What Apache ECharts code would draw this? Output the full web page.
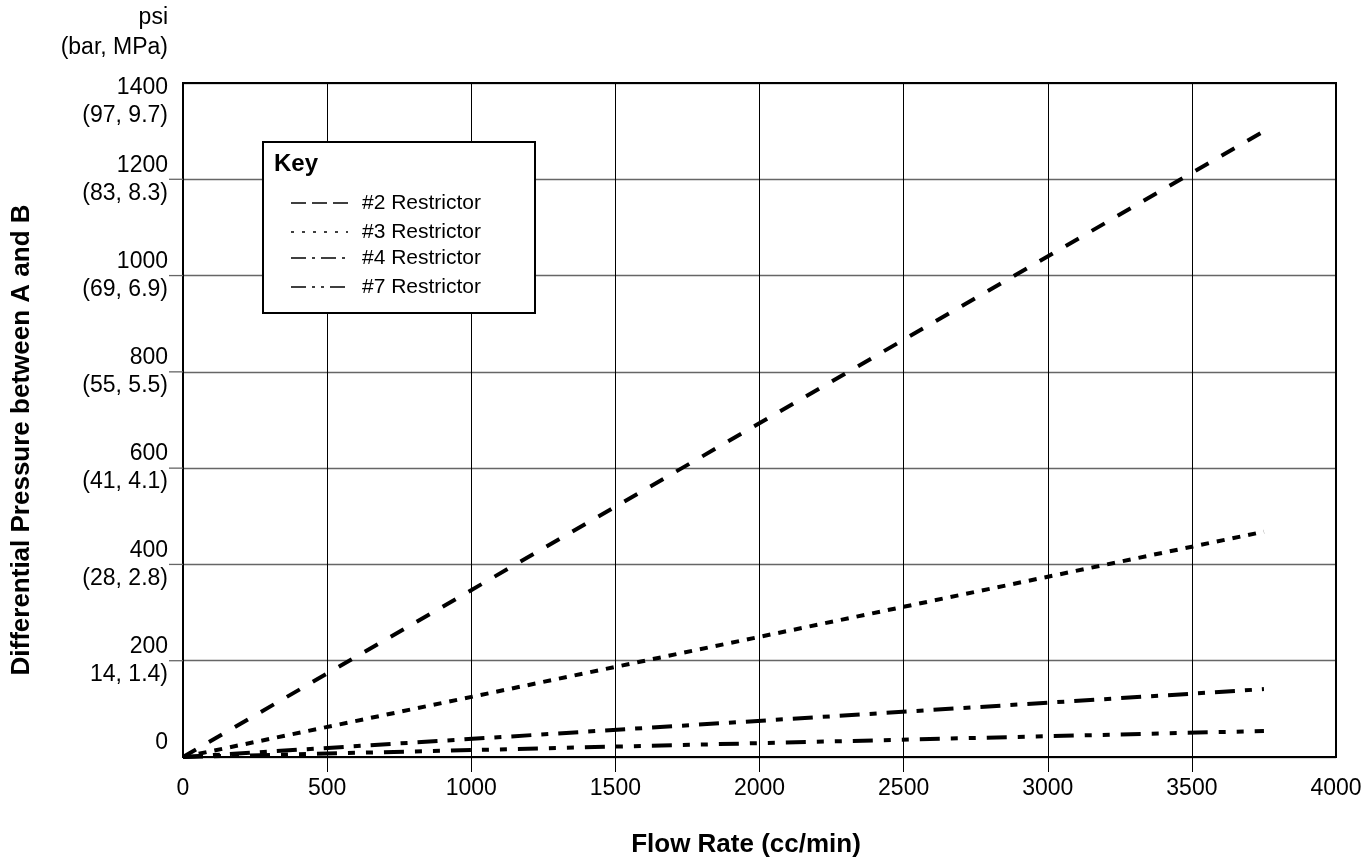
<!DOCTYPE html>
<html>
<head>
<meta charset="utf-8">
<script src="https://cdn.jsdelivr.net/npm/echarts@6/dist/echarts.min.js"></script>
<style>
html,body{margin:0;padding:0;background:#fff;}
#chart{width:1367px;height:861px;}
</style>
</head>
<body>
<div id="chart"></div>
<script>
// ---- data ----
const seriesNames = ['#2 Restrictor', '#3 Restrictor', '#4 Restrictor', '#7 Restrictor'];
const flowX = [0, 3750];                 // cc/min
const r2 = [0, 1300];                    // psi
const r3 = [0, 468];
const r4 = [0, 141];
const r7 = [0, 54];
const xTicks = [0, 500, 1000, 1500, 2000, 2500, 3000, 3500, 4000];
const xTickLabels = ['0', '500', '1000', '1500', '2000', '2500', '3000', '3500', '4000'];
const yTicks = [0, 200, 400, 600, 800, 1000, 1200, 1400];
const yTickPsi = ['0', '200', '400', '600', '800', '1000', '1200', '1400'];
const yTickMetric = [' ', '14, 1.4)', '(28, 2.8)', '(41, 4.1)', '(55, 5.5)', '(69, 6.9)', '(83, 8.3)', '(97, 9.7)'];
const yUnit = ['psi', '(bar, MPa)'];
const xTitle = 'Flow Rate (cc/min)';
const yTitle = 'Differential Pressure between A and B';
const legendTitle = 'Key';

// ---- styles ----
const FONT = "'Liberation Sans', Arial, Helvetica, sans-serif";
const dashes = [[15, 15], [8, 8], [20, 10, 7, 10], [20, 11, 7, 11, 7, 11]];
const legendDashes = [[15, 6], [3, 8], [15, 6, 3, 6], [15, 6, 3, 6, 3, 6]];
const values = [r2, r3, r4, r7];

const chart = echarts.init(document.getElementById('chart'), null, {renderer: 'canvas'});

const series = values.map((v, i) => ({
  name: seriesNames[i],
  type: 'line',
  data: flowX.map((x, k) => [x, v[k]]),
  showSymbol: false,
  symbol: 'none',
  silent: true,
  z: 5,
  lineStyle: {color: '#000', width: 4, type: dashes[i], cap: 'butt'}
}));

// legend graphic
const lg = {left: 263, top: 142, w: 272, h: 171};
const rowsY = [203, 232, 258, 287];
const legendEls = [
  {id: 'lgbox', type: 'rect', shape: {x: lg.left, y: lg.top, width: lg.w, height: lg.h},
   style: {fill: '#fff', stroke: '#000', lineWidth: 2}, z: 100},
  {id: 'lgtitle', type: 'text', x: 274, y: 164, z: 101,
   style: {text: legendTitle, font: 'bold 24px ' + FONT, fill: '#000', textVerticalAlign: 'middle'}}
];
seriesNames.forEach((n, i) => {
  legendEls.push({id: 'lgl' + i, type: 'line', z: 101,
    shape: {x1: 291, y1: rowsY[i], x2: 348, y2: rowsY[i]},
    style: {stroke: '#000', lineWidth: 1.5, lineDash: legendDashes[i]}});
  legendEls.push({id: 'lgt' + i, type: 'text', x: 362, y: rowsY[i], z: 101,
    style: {text: n, font: '21px ' + FONT, fill: '#000', textVerticalAlign: 'middle'}});
});

const baseGraphic = [
  {id: 'u0', type: 'text', x: 168, y: 18, style: {text: yUnit[0], font: '23px ' + FONT, fill: '#000', textAlign: 'right', textVerticalAlign: 'middle'}},
  {id: 'u1', type: 'text', x: 168, y: 48, style: {text: yUnit[1], font: '23px ' + FONT, fill: '#000', textAlign: 'right', textVerticalAlign: 'middle'}},
  {id: 'yt', type: 'text', x: 22, y: 440, rotation: Math.PI / 2,
   style: {text: yTitle, font: 'bold 26px ' + FONT, fill: '#000', textAlign: 'center', textVerticalAlign: 'middle'}},
  {id: 'xt', type: 'text', x: 746, y: 845,
   style: {text: xTitle, font: 'bold 26px ' + FONT, fill: '#000', textAlign: 'center', textVerticalAlign: 'middle'}}
].concat(legendEls);

const option = {
  animation: false,
  backgroundColor: '#fff',
  grid: [
    {left: 183, top: 83, right: 31, bottom: 104, show: true, borderColor: '#000', borderWidth: 2, backgroundColor: 'transparent', z: 10},
    // thin strip under the plot: its split lines form the outer x tick marks
    {left: 183, top: 757, right: 31, height: 15, show: false}
  ],
  xAxis: [{
    type: 'value', min: 0, max: 4000, interval: 500, gridIndex: 0,
    axisLine: {show: false},
    axisTick: {show: false},
    axisLabel: {color: '#000', fontSize: 23, fontFamily: FONT, margin: 20,
      formatter: function (v) { const i = xTicks.indexOf(v); return i < 0 ? '' : xTickLabels[i]; }},
    splitLine: {show: true, lineStyle: {color: '#000', width: 1}}
  }, {
    type: 'value', min: 0, max: 4000, interval: 500, gridIndex: 1,
    axisLine: {show: false}, axisTick: {show: false}, axisLabel: {show: false},
    splitLine: {show: true, showMinLine: false, showMaxLine: false, lineStyle: {color: '#000', width: 1}}
  }],
  yAxis: [{
    type: 'value', min: 0, max: 1400, interval: 200, gridIndex: 0,
    axisLine: {show: false},
    axisTick: {show: false},
    axisLabel: {
      color: '#000', fontSize: 23, fontFamily: FONT, margin: 15, lineHeight: 28, align: 'right',
      formatter: function (v) {
        const i = yTicks.indexOf(v);
        if (i < 0) return '';
        if (v === 1400) return '{s| }\n{a|' + yTickPsi[i] + '}\n{a|' + yTickMetric[i] + '}';
        return yTickPsi[i] + '\n' + yTickMetric[i];
      },
      rich: {
        s: {lineHeight: 38, fontSize: 10},
        a: {lineHeight: 28, fontSize: 23, fontFamily: FONT, color: '#000', align: 'right'}
      }
    },
    splitLine: {show: true, lineStyle: {color: '#666', width: 1.3}}
  }, {
    type: 'value', min: 0, max: 1, gridIndex: 1, show: false
  }],
  series: series,
  graphic: baseGraphic
};
chart.setOption(option);

// outer y tick marks at interior ticks, positioned through the axis scale
const tickEls = [];
yTicks.slice(1, -1).forEach((v, i) => {
  const p = chart.convertToPixel({gridIndex: 0}, [0, v]);
  tickEls.push({id: 'ytk' + i, type: 'line', shape: {x1: p[0] - 14, y1: p[1], x2: p[0], y2: p[1]},
    style: {stroke: '#666', lineWidth: 1.3}, z: 20});
});
chart.setOption({graphic: baseGraphic.concat(tickEls)});
</script>
</body>
</html>
